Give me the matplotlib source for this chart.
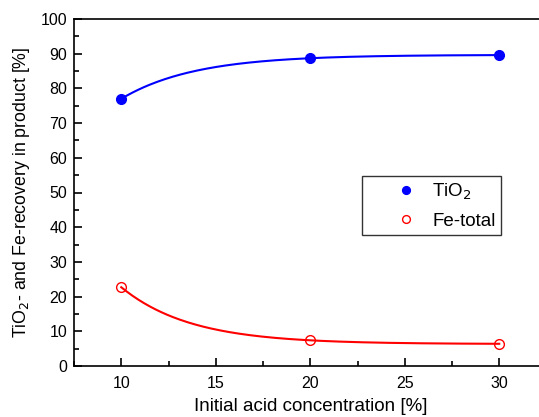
import numpy as np
import matplotlib.pyplot as plt
from matplotlib.ticker import MultipleLocator

acid = [10, 20, 30]
tio2 = [77.0, 88.7, 89.6]
fe_total = [22.7, 7.4, 6.4]


def exp_fit(x, y):
    # y = a + b*exp(-x/t) passing through three equally spaced points
    r = (y[2] - y[1]) / (y[1] - y[0])
    k = -np.log(r) / (x[1] - x[0])
    b = (y[1] - y[0]) / (np.exp(-k * x[1]) - np.exp(-k * x[0]))
    a = y[0] - b * np.exp(-k * x[0])
    xs = np.linspace(x[0], x[-1], 200)
    return xs, a + b * np.exp(-k * xs)


plt.rcParams['font.family'] = ['Liberation Sans', 'DejaVu Sans']
fig = plt.figure(figsize=(5.39, 4.17), dpi=100)
ax = fig.add_axes([74 / 539, 1 - 366 / 417, 472.5 / 539, 347 / 417])

xs, ys = exp_fit(acid, tio2)
ax.plot(xs, ys, color='blue', lw=1.5)
ax.plot(acid, tio2, 'o', color='blue', ms=7, label='TiO$_2$')

xs, ys = exp_fit(acid, fe_total)
ax.plot(xs, ys, color='red', lw=1.5)
ax.plot(acid, fe_total, 'o', color='red', mfc='none', ms=7, mew=1, label='Fe-total')

ax.set_xlim(7.5, 32.5)
ax.set_ylim(0, 100)
ax.xaxis.set_major_locator(MultipleLocator(5))
ax.xaxis.set_minor_locator(MultipleLocator(2.5))
ax.yaxis.set_major_locator(MultipleLocator(10))
ax.yaxis.set_minor_locator(MultipleLocator(5))
ax.tick_params(which='both', direction='in', labelsize=11.5, width=1.2)
ax.tick_params(which='major', length=5.5)
ax.tick_params(which='minor', length=3.5)
ax.tick_params(axis='x', which='both', pad=7)
ax.tick_params(axis='y', which='both', pad=5)
for s in ax.spines.values():
    s.set_linewidth(1.2)

ax.set_xlabel('Initial acid concentration [%]', fontsize=13.5, labelpad=5)
ax.set_ylabel('TiO$_2$- and Fe-recovery in product [%]', fontsize=12.8, labelpad=6)

leg = ax.legend(loc='upper left', bbox_to_anchor=((362 - 74) / 472.5, (366 - 176) / 347),
                borderaxespad=0, fontsize=13.5, frameon=True, fancybox=False,
                edgecolor='black', handlelength=4.1, handletextpad=-0.65,
                borderpad=0.3, labelspacing=0.56, markerscale=0.8)
leg.get_frame().set_linewidth(1)

fig.savefig('out.png', dpi=100)
